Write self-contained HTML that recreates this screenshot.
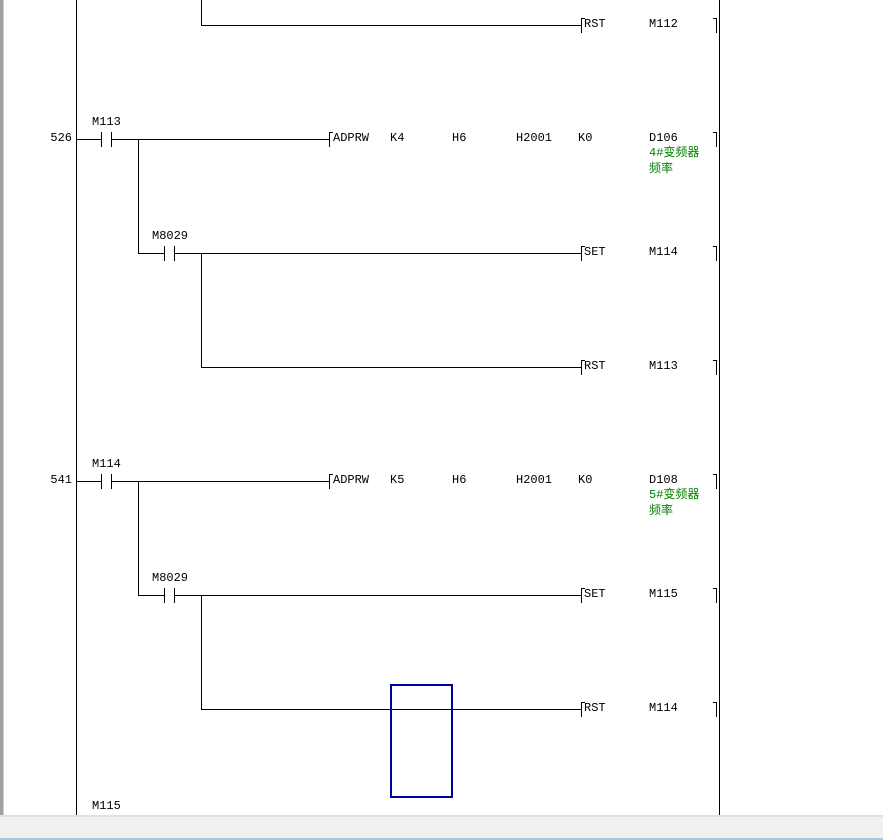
<!DOCTYPE html>
<html><head><meta charset="utf-8"><style>
html,body{margin:0;padding:0;background:#fff;}
svg{display:block}
text{font-family:"Liberation Mono","Noto Sans CJK SC",monospace;font-size:12px;fill:#000}
.g{fill:#008000}
</style></head><body>
<svg width="883" height="840" viewBox="0 0 883 840" xmlns="http://www.w3.org/2000/svg">
<rect x="0" y="0" width="883" height="840" fill="#fff"/>
<rect x="0" y="0" width="3" height="816" fill="#a0a0a0"/>
<rect x="3" y="0" width="1" height="816" fill="#d0d0d0"/>
<g stroke="#000" stroke-width="1" fill="none" shape-rendering="crispEdges">
<line x1="76.5" y1="0" x2="76.5" y2="816"/>
<line x1="719.5" y1="0" x2="719.5" y2="816"/>
<!-- top partial -->
<line x1="201.5" y1="0" x2="201.5" y2="25.5"/>
<line x1="201" y1="25.5" x2="581" y2="25.5"/>
<!-- rung 526 -->
<line x1="76" y1="139.5" x2="101" y2="139.5"/>
<line x1="101.5" y1="132" x2="101.5" y2="147"/>
<line x1="111.5" y1="132" x2="111.5" y2="147"/>
<line x1="111" y1="139.5" x2="329" y2="139.5"/>
<line x1="138.5" y1="139" x2="138.5" y2="253.5"/>
<line x1="138" y1="253.5" x2="164" y2="253.5"/>
<line x1="164.5" y1="246" x2="164.5" y2="261"/>
<line x1="174.5" y1="246" x2="174.5" y2="261"/>
<line x1="174" y1="253.5" x2="581" y2="253.5"/>
<line x1="201.5" y1="253" x2="201.5" y2="367.5"/>
<line x1="201" y1="367.5" x2="581" y2="367.5"/>
<!-- rung 541 -->
<line x1="76" y1="481.5" x2="101" y2="481.5"/>
<line x1="101.5" y1="474" x2="101.5" y2="489"/>
<line x1="111.5" y1="474" x2="111.5" y2="489"/>
<line x1="111" y1="481.5" x2="329" y2="481.5"/>
<line x1="138.5" y1="481" x2="138.5" y2="595.5"/>
<line x1="138" y1="595.5" x2="164" y2="595.5"/>
<line x1="164.5" y1="588" x2="164.5" y2="603"/>
<line x1="174.5" y1="588" x2="174.5" y2="603"/>
<line x1="174" y1="595.5" x2="581" y2="595.5"/>
<line x1="201.5" y1="595" x2="201.5" y2="709.5"/>
<line x1="201" y1="709.5" x2="581" y2="709.5"/>
</g>
<!-- brackets -->
<g stroke="#000" stroke-width="1" fill="none" shape-rendering="crispEdges">
<path d="M585 18.5H581.5V33"/><path d="M713 18.5H716.5V33"/>
<path d="M333 132.5H329.5V147"/><path d="M713 132.5H716.5V147"/>
<path d="M585 246.5H581.5V261"/><path d="M713 246.5H716.5V261"/>
<path d="M585 360.5H581.5V375"/><path d="M713 360.5H716.5V375"/>
<path d="M333 474.5H329.5V489"/><path d="M713 474.5H716.5V489"/>
<path d="M585 588.5H581.5V603"/><path d="M713 588.5H716.5V603"/>
<path d="M585 702.5H581.5V717"/><path d="M713 702.5H716.5V717"/>
</g>
<text x="584" y="27">RST</text><text x="649" y="27">M112</text>
<text x="72" y="141" text-anchor="end">526</text>
<text x="92" y="125">M113</text>
<text x="333" y="141">ADPRW</text><text x="390" y="141">K4</text><text x="452" y="141">H6</text><text x="516" y="141">H2001</text><text x="578" y="141">K0</text><text x="649" y="141">D106</text>
<text class="g" x="649" y="156">4#变频器</text><text class="g" x="649" y="172">频率</text>
<text x="152" y="239">M8029</text>
<text x="584" y="255">SET</text><text x="649" y="255">M114</text>
<text x="584" y="369">RST</text><text x="649" y="369">M113</text>
<text x="72" y="483" text-anchor="end">541</text>
<text x="92" y="467">M114</text>
<text x="333" y="483">ADPRW</text><text x="390" y="483">K5</text><text x="452" y="483">H6</text><text x="516" y="483">H2001</text><text x="578" y="483">K0</text><text x="649" y="483">D108</text>
<text class="g" x="649" y="498">5#变频器</text><text class="g" x="649" y="514">频率</text>
<text x="152" y="581">M8029</text>
<text x="584" y="597">SET</text><text x="649" y="597">M115</text>
<text x="584" y="711">RST</text><text x="649" y="711">M114</text>
<text x="92" y="809">M115</text>
<rect x="391" y="685" width="61" height="112" fill="none" stroke="#0000a8" stroke-width="2"/>
<!-- bottom bar -->
<rect x="0" y="815" width="883" height="2" fill="#e0e0e0"/>
<rect x="0" y="817" width="883" height="21" fill="#f0f0f0"/>
<rect x="0" y="838" width="883" height="2" fill="#a8c8dc"/>
</svg>
</body></html>
